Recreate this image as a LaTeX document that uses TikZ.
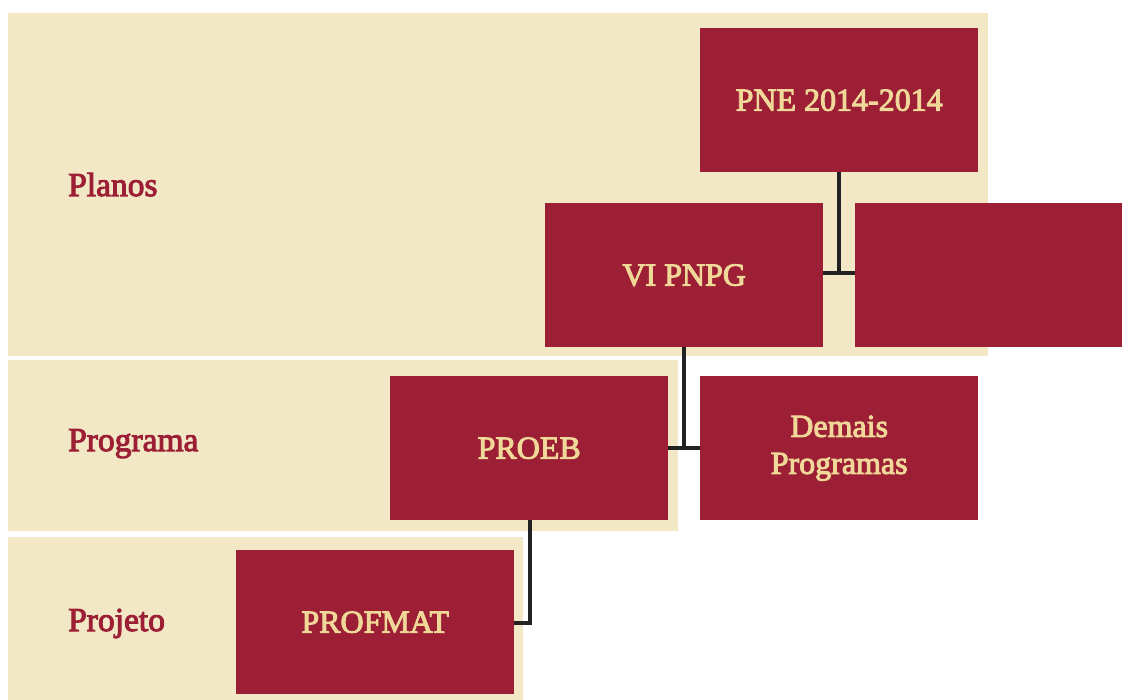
\documentclass[tikz,border=0pt]{standalone}
\usepackage{fontspec}
\setmainfont{Liberation Serif}
\newfontfamily\semib{Liberation Serif}[FakeBold=3]
\definecolor{band}{HTML}{F2E8C5}
\definecolor{boxred}{HTML}{9C1F36}
\definecolor{boxtxt}{HTML}{F0D898}
\definecolor{conn}{HTML}{222222}
\begin{document}
\begin{tikzpicture}[x=1pt,y=-1pt,
  bandbox/.style={fill=band,draw=none},
  unit/.style={fill=boxred,draw=none,minimum width=278pt,minimum height=144pt,inner sep=0pt,
    text=boxtxt,font=\fontsize{32}{37}\semib,align=center,anchor=north west},
  lab/.style={text=boxred,font=\fontsize{33.5}{34}\semib,anchor=base west,inner sep=0pt},
  link/.style={draw=conn,line width=3.4pt}]
\useasboundingbox (0,0) rectangle (1122,700);
\fill[white] (0,0) rectangle (1122,700);
% bands
\path[bandbox] (8,13) rectangle (988,356);
\path[bandbox] (8,360) rectangle (678,531);
\path[bandbox] (8,537) rectangle (523,700);
% labels
\node[lab] (planos) at (68,196) {Planos};
\node[lab] (programa) at (68,451) {Programa};
\node[lab] (projeto) at (68,631) {Projeto};
% junction points
\coordinate (j1) at (839,273);
\coordinate (j2) at (684,448);
\coordinate (j3) at (530,623);
% boxes
\node[unit] (pne) at (700,28) {PNE 2014-2014};
\node[unit] (pnpg) at (545,203) {VI PNPG};
\node[unit,minimum width=267pt] (blank) at (855,203) {};
\node[unit] (proeb) at (390,376) {PROEB};
\node[unit] (demais) at (700,376) {Demais\\Programas};
\node[unit] (profmat) at (236,550) {PROFMAT};
% connectors
\draw[link] (pne.south -| j1) -- (j1);
\draw[link] (pnpg.east |- j1) -- (blank.west |- j1);
\draw[link] (pnpg.south -| j2) -- (j2);
\draw[link] (proeb.east |- j2) -- (demais.west |- j2);
\draw[link] (proeb.south -| j3) -- (j3) -- (profmat.east |- j3);
\end{tikzpicture}
\end{document}
